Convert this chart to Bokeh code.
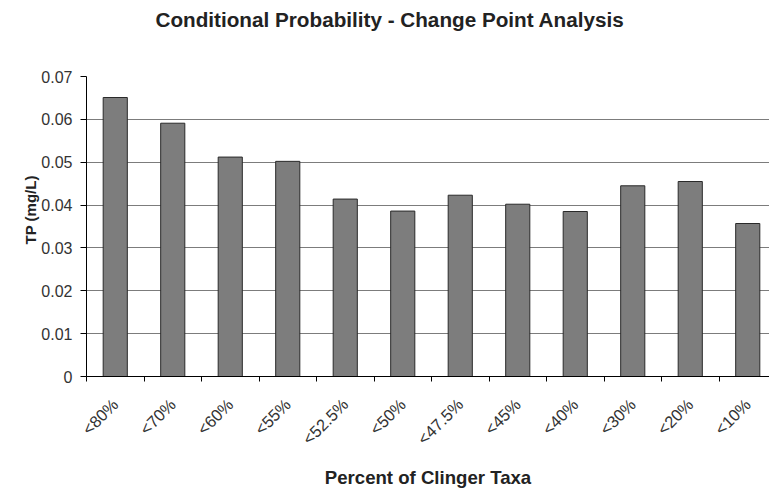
from bokeh.plotting import figure
from bokeh.models import Range1d, FixedTicker, Title
from bokeh.embed import file_html
from bokeh.resources import INLINE
import math

categories = ["<80%", "<70%", "<60%", "<55%", "<52.5%", "<50%", "<47.5%", "<45%", "<40%", "<30%", "<20%", "<10%"]
tp_values = [0.0651, 0.0591, 0.0512, 0.0502, 0.0414, 0.0386, 0.0423, 0.0402, 0.0385, 0.0445, 0.0455, 0.0357]
y_ticks = [0, 0.01, 0.02, 0.03, 0.04, 0.05, 0.06, 0.07]
title_text = "Conditional Probability - Change Point Analysis"
y_label = "TP (mg/L)"
x_label = "Percent of Clinger Taxa"

positions = list(range(1, len(categories) + 1))

W, H = 769, 491
LEFT, TOP, BOTTOM = 86, 76, 114
cat_px = 57.5

p = figure(width=W, height=H, output_backend="svg", toolbar_location=None,
           x_range=Range1d(0.5, 0.5 + (W - LEFT) / cat_px), y_range=Range1d(0, 0.07))

p.min_border_left = LEFT
p.min_border_right = 0
p.min_border_top = TOP
p.min_border_bottom = BOTTOM
p.outline_line_color = None
p.background_fill_color = "white"
p.border_fill_color = "white"

p.ygrid.ticker = FixedTicker(ticks=y_ticks)
p.ygrid.grid_line_color = "#7c7c7c"
p.ygrid.grid_line_width = 1
p.xgrid.grid_line_color = None

p.vbar(x=positions, top=tp_values, bottom=0, width=0.42,
       fill_color="#7d7d7d", line_color="#2a2a2a", line_width=1)

font = "'Liberation Sans', Arial, sans-serif"

# main title (two trailing blank lines lift it toward the top of the page)
t = Title(text=title_text + "\n\n", align="left", offset=155 - LEFT,
          text_font=font, text_font_size="20.7px", text_font_style="bold",
          text_color="#222222", text_line_height=1.0, standoff=0)
p.add_layout(t, "above")

# y-axis title as a left-side Title so it can be offset along the axis
yt = Title(text=y_label, align="left", offset=(H - BOTTOM) - 245,
           text_font=font, text_font_size="15px", text_font_style="bold",
           text_color="#222222", standoff=0)
p.add_layout(yt, "left")

xa = p.xaxis[0]
xa.ticker = FixedTicker(ticks=positions, minor_ticks=[i + 0.5 for i in range(0, 13)])
xa.major_label_overrides = {pos: lab for pos, lab in zip(positions, categories)}
xa.major_label_orientation = math.pi / 4
xa.major_tick_out = 0
xa.major_tick_in = 0
xa.minor_tick_out = 5
xa.minor_tick_in = 0
xa.minor_tick_line_color = "black"
xa.axis_line_color = "black"
xa.major_label_text_font = font
xa.major_label_text_font_size = "16.5px"
xa.major_label_text_color = "#333333"
xa.major_label_standoff = 20
xa.axis_label = x_label
xa.axis_label_text_font = font
xa.axis_label_text_font_size = "18.6px"
xa.axis_label_text_font_style = "bold"
xa.axis_label_text_color = "#222222"
xa.axis_label_standoff = 10

ya = p.yaxis[0]
ya.ticker = FixedTicker(ticks=y_ticks)
ya.major_label_overrides = {0: "0"}
ya.major_tick_out = 6
ya.major_tick_in = 0
ya.minor_tick_out = 0
ya.minor_tick_in = 0
ya.axis_line_color = "black"
ya.major_label_text_font = font
ya.major_label_text_font_size = "16px"
ya.major_label_text_color = "#333333"
ya.major_label_standoff = 8

open("out.html", "w").write(file_html(p, INLINE))
